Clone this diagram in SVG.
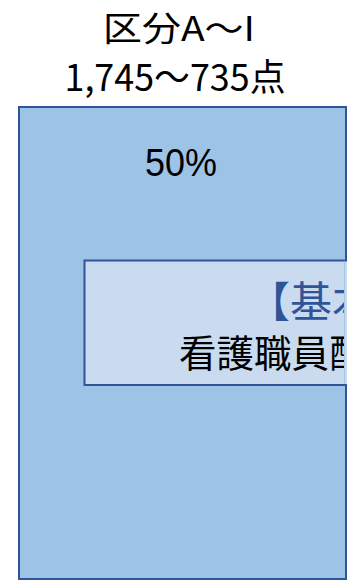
<svg xmlns="http://www.w3.org/2000/svg" width="347" height="581" viewBox="0 0 347 581">
  <style>
    .jp { font-family: "Noto Sans CJK JP", "Noto Sans", sans-serif; }
    .num { font-family: "Liberation Sans", Arial, sans-serif; }
    .box { stroke: #2f5597; stroke-width: 2; }
  </style>
  <defs>
    <clipPath id="clipText">
      <rect x="84" y="255" width="260" height="135"/>
    </clipPath>
  </defs>
  <rect width="347" height="581" fill="#ffffff"/>
  <g id="title">
    <text class="jp" x="179" y="41" font-size="34" text-anchor="middle" textLength="152" lengthAdjust="spacingAndGlyphs" fill="#000">区分A～I</text>
    <text class="jp" x="175" y="91" font-size="37" text-anchor="middle" textLength="221" lengthAdjust="spacingAndGlyphs" fill="#000">1,745～735点</text>
  </g>
  <g id="outer-box">
    <rect class="box" x="19" y="107" width="327" height="472" fill="#9dc3e6"/>
    <text class="num" x="181" y="176" font-size="38" text-anchor="middle" textLength="72" lengthAdjust="spacingAndGlyphs" fill="#000">50%</text>
  </g>
  <g id="inner-box">
    <rect class="box" x="84.5" y="260.5" width="280" height="124.5" fill="#cadbef"/>
    <g clip-path="url(#clipText)">
      <text class="jp" x="248" y="317" font-size="42" fill="#2f5597">【基本</text>
      <text class="jp" x="179" y="367" font-size="37.5" fill="#000">看護職員配</text>
    </g>
    <line x1="344.5" y1="261.5" x2="344.5" y2="384" stroke="#a9c4e4" stroke-width="1"/>
  </g>
</svg>
